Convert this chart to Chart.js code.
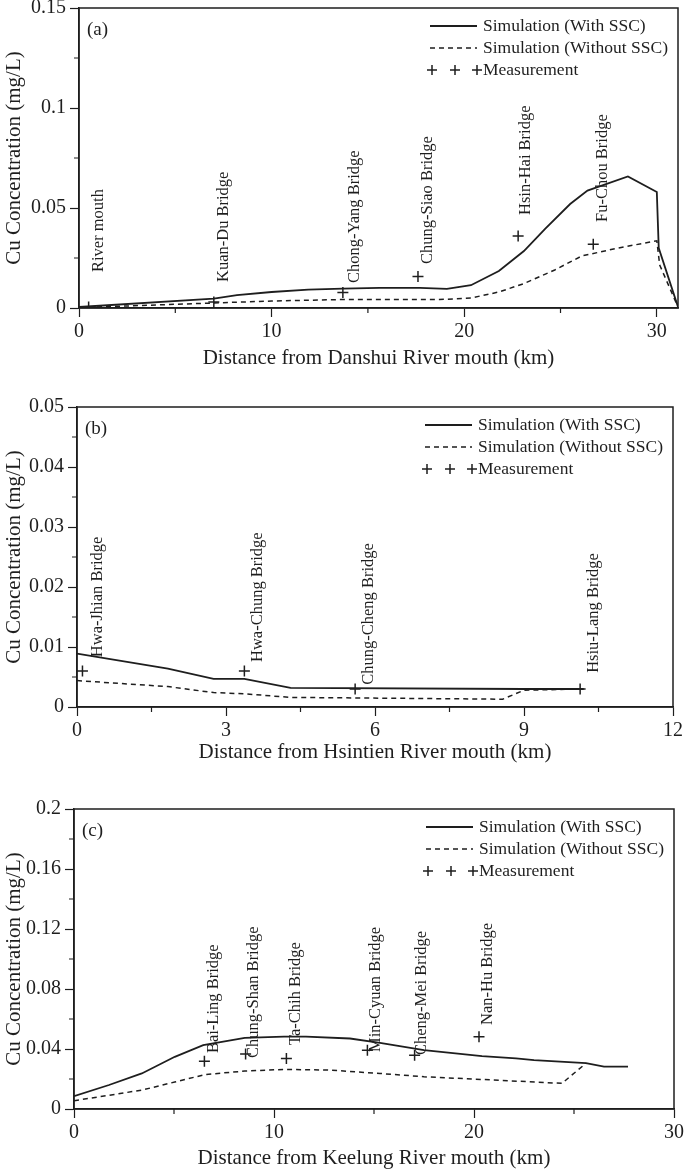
<!DOCTYPE html>
<html>
<head>
<meta charset="utf-8">
<title>Cu Concentration</title>
<script src="https://cdn.jsdelivr.net/npm/chart.js@4"></script>
<style>
    body { margin: 0; background: #fff; }
    .panel { position: absolute; left: 0; width: 685px; }
</style>
</head>
<body>
<div class="panel" style="top:0;height:385px"><canvas id="chartA"></canvas></div>
<div class="panel" style="top:385px;height:395px"><canvas id="chartB"></canvas></div>
<div class="panel" style="top:780px;height:392px"><canvas id="chartC"></canvas></div>

<script>
    // (a) Danshui River
    var withXA = [0, 7.0, 8.2, 10.0, 11.9, 13.7, 15.6, 17.7, 19.1, 20.35, 21.8, 23.1, 24.2, 25.5, 26.4, 28.5, 30.0, 30.1, 31.1];
    var withYA = [0.0005, 0.0047, 0.0064, 0.008, 0.0092, 0.0097, 0.0101, 0.0101, 0.0096, 0.0114, 0.0185, 0.0285, 0.0396, 0.052, 0.0587, 0.0658, 0.058, 0.030, 0.0005];
    var withoutXA = [0, 7.0, 10.0, 13.5, 18.7, 20.35, 21.8, 23.1, 24.7, 26.1, 28.0, 30.0, 30.15, 31.1];
    var withoutYA = [0.0002, 0.0025, 0.0035, 0.0042, 0.0042, 0.005, 0.008, 0.0122, 0.019, 0.026, 0.030, 0.0336, 0.0215, 0.0005];
    var measXA = [0.5, 7.0, 13.7, 17.6, 22.8, 26.7];
    var measYA = [0.0005, 0.003, 0.0077, 0.0158, 0.036, 0.0319];
    var bridgesA = ["River mouth", "Kuan-Du Bridge", "Chong-Yang Bridge", "Chung-Siao Bridge", "Hsin-Hai Bridge", "Fu-Chou Bridge"];
    var bridgeXA = [1.03, 7.5, 14.3, 18.1, 23.2, 27.2];
    var bridgeYA = [0.018, 0.013, 0.0125, 0.022, 0.0465, 0.043];

    // (b) Hsintien River
    var withXB = [0, 1.83, 2.75, 3.37, 4.3, 9.0, 10.2];
    var withYB = [0.0089, 0.0064, 0.0047, 0.0047, 0.0032, 0.003, 0.003];
    var withoutXB = [0, 1.83, 2.75, 3.37, 4.3, 8.57, 9.0, 10.2];
    var withoutYB = [0.0044, 0.0034, 0.0024, 0.0022, 0.0016, 0.0013, 0.0028, 0.003];
    var measXB = [0.11, 3.37, 5.6, 10.13];
    var measYB = [0.006, 0.006, 0.003, 0.003];
    var bridgesB = ["Hwa-Jhian Bridge", "Hwa-Chung Bridge", "Chung-Cheng Bridge", "Hsiu-Lang Bridge"];
    var bridgeXB = [0.42, 3.64, 5.88, 10.41];
    var bridgeYB = [0.0083, 0.0075, 0.0037, 0.0057];

    // (c) Keelung River
    var withXC = [0, 1.75, 3.39, 5.04, 6.46, 8.54, 10.5, 11.6, 13.8, 15.3, 17.5, 20.4, 22.1, 23.0, 25.6, 26.5, 27.7];
    var withYC = [0.0086, 0.016, 0.0237, 0.0348, 0.0426, 0.0474, 0.0483, 0.0483, 0.047, 0.0441, 0.0392, 0.0353, 0.0337, 0.0326, 0.0306, 0.0282, 0.0282];
    var withoutXC = [0, 3.39, 5.04, 6.57, 8.54, 10.5, 12.7, 15.3, 17.5, 20.4, 24.4, 25.6];
    var withoutYC = [0.0055, 0.0126, 0.018, 0.023, 0.0253, 0.0264, 0.026, 0.0237, 0.0215, 0.0197, 0.0171, 0.0305];
    var measXC = [6.52, 8.58, 10.62, 14.67, 17.03, 20.25];
    var measYC = [0.0319, 0.0366, 0.0337, 0.0392, 0.0359, 0.0481];
    var bridgesC = ["Bai-Ling Bridge", "Chung-Shan Bridge", "Ta-Chih Bridge", "Min-Cyuan Bridge", "Cheng-Mei Bridge", "Nan-Hu Bridge"];
    var bridgeXC = [7.0, 8.98, 11.06, 15.1, 17.4, 20.7];
    var bridgeYC = [0.0373, 0.034, 0.0427, 0.038, 0.036, 0.056];

    var legendLabels = ["Simulation (With SSC)", "Simulation (Without SSC)", "Measurement"];
    var yTitle = "Cu Concentration (mg/L)";

    var INK = "#1e1e1e";
    var FONT = "'Liberation Serif', 'Times New Roman', serif";
    Chart.defaults.font.family = FONT;
    Chart.defaults.color = INK;

    function pts(xs, ys) {
        return xs.map(function (x, i) { return { x: x, y: ys[i] }; });
    }
    function isMajor(v, step) {
        var r = v / step;
        return Math.abs(r - Math.round(r)) < 1e-6;
    }

    // frame, minor ticks, panel letter, bridge names and legend
    function decor(p) {
        return {
            id: "decor" + p.letter,
            afterDraw: function (chart) {
                var ctx = chart.ctx, a = chart.chartArea;
                var xs = chart.scales.x, ys = chart.scales.y;
                ctx.save();
                ctx.strokeStyle = INK;
                ctx.fillStyle = INK;
                ctx.lineWidth = 1.5;
                ctx.strokeRect(a.left, a.top, a.right - a.left, a.bottom - a.top);

                ctx.lineWidth = 1.2;
                ctx.beginPath();
                xs.ticks.forEach(function (t) {
                    if (isMajor(t.value, p.xMajor)) return;
                    var px = xs.getPixelForValue(t.value);
                    ctx.moveTo(px, a.bottom);
                    ctx.lineTo(px, a.bottom + 5);
                });
                ys.ticks.forEach(function (t) {
                    if (isMajor(t.value, p.yMajor)) return;
                    var py = ys.getPixelForValue(t.value);
                    ctx.moveTo(a.left, py);
                    ctx.lineTo(a.left - 5, py);
                });
                ctx.stroke();

                ctx.textBaseline = "middle";
                ctx.textAlign = "left";
                ctx.font = "19px " + FONT;
                ctx.fillText("(" + p.letter + ")", a.left + 8, a.top + 22);

                ctx.font = "16.5px " + FONT;
                p.names.forEach(function (name, i) {
                    ctx.save();
                    ctx.translate(xs.getPixelForValue(p.bx[i]), ys.getPixelForValue(p.by[i]));
                    ctx.rotate(-Math.PI / 2);
                    ctx.fillText(name, 0, 0);
                    ctx.restore();
                });

                // legend
                var rows = [18, 40, 62];
                var x0 = a.right - 248, x1 = a.right - 201, tx = a.right - 195;
                ctx.font = "17.5px " + FONT;
                ctx.lineWidth = 1.8;
                ctx.beginPath();
                ctx.moveTo(x0, a.top + rows[0]);
                ctx.lineTo(x1, a.top + rows[0]);
                ctx.stroke();
                ctx.setLineDash([5, 4]);
                ctx.lineWidth = 1.5;
                ctx.beginPath();
                ctx.moveTo(x0, a.top + rows[1]);
                ctx.lineTo(x1, a.top + rows[1]);
                ctx.stroke();
                ctx.setLineDash([]);
                ctx.beginPath();
                [a.right - 246, a.right - 223, a.right - 201].forEach(function (cx) {
                    var cy = a.top + rows[2];
                    ctx.moveTo(cx - 5, cy);
                    ctx.lineTo(cx + 5, cy);
                    ctx.moveTo(cx, cy - 5);
                    ctx.lineTo(cx, cy + 5);
                });
                ctx.stroke();
                legendLabels.forEach(function (lab, i) {
                    ctx.fillText(lab, tx, a.top + rows[i]);
                });
                ctx.restore();
            }
        };
    }

    function makeChart(id, p) {
        var ctx = document.getElementById(id).getContext("2d");
        return new Chart(ctx, {
            type: "scatter",
            data: {
                datasets: [{
                    label: legendLabels[0],
                    data: pts(p.withX, p.withY),
                    showLine: true,
                    borderColor: INK,
                    borderWidth: 1.8,
                    pointRadius: 0,
                    tension: 0
                }, {
                    label: legendLabels[1],
                    data: pts(p.withoutX, p.withoutY),
                    showLine: true,
                    borderColor: INK,
                    borderWidth: 1.5,
                    borderDash: [5, 4],
                    pointRadius: 0,
                    tension: 0
                }, {
                    label: legendLabels[2],
                    data: pts(p.measX, p.measY),
                    showLine: false,
                    pointStyle: "cross",
                    pointRadius: 5.5,
                    borderColor: INK,
                    borderWidth: 1.5
                }]
            },
            options: {
                responsive: true,
                maintainAspectRatio: false,
                animation: false,
                layout: { padding: { left: 0, right: p.padRight, top: p.padTop, bottom: 0 } },
                plugins: { legend: { display: false }, tooltip: { enabled: false } },
                scales: {
                    x: {
                        type: "linear",
                        min: 0,
                        max: p.xMax,
                        border: { display: true, color: INK, width: 1.5 },
                        grid: {
                            drawOnChartArea: false,
                            tickLength: 9,
                            tickWidth: 1.2,
                            tickColor: function (c) { return c.tick && isMajor(c.tick.value, p.xMajor) ? INK : "rgba(0,0,0,0)"; }
                        },
                        ticks: {
                            stepSize: p.xMinor,
                            includeBounds: false,
                            autoSkip: false,
                            maxRotation: 0,
                            padding: 3,
                            color: INK,
                            font: { size: 20 },
                            callback: function (v) { return isMajor(v, p.xMajor) ? String(+v.toFixed(3)) : ""; }
                        },
                        title: { display: true, text: p.xTitle, color: INK, font: { size: 21 }, padding: { top: 0, bottom: p.xTitlePad } },
                        afterFit: function (s) { s.height = p.xHeight; s.paddingLeft = 0; s.paddingRight = 0; }
                    },
                    y: {
                        type: "linear",
                        min: 0,
                        max: p.yMax,
                        border: { display: true, color: INK, width: 1.5 },
                        grid: {
                            drawOnChartArea: false,
                            tickLength: 9,
                            tickWidth: 1.2,
                            tickColor: function (c) { return c.tick && isMajor(c.tick.value, p.yMajor) ? INK : "rgba(0,0,0,0)"; }
                        },
                        ticks: {
                            stepSize: p.yMinor,
                            autoSkip: false,
                            padding: 4,
                            color: INK,
                            font: { size: 20 },
                            callback: function (v) { return isMajor(v, p.yMajor) ? String(+v.toFixed(3)) : ""; }
                        },
                        title: { display: true, text: yTitle, color: INK, font: { size: 21 }, padding: { top: 2, bottom: 0 } },
                        afterFit: function (s) { s.width = p.yWidth; s.paddingTop = 0; s.paddingBottom = 0; }
                    }
                }
            },
            plugins: [decor(p)]
        });
    }

    makeChart("chartA", {
        letter: "a", withX: withXA, withY: withYA, withoutX: withoutXA, withoutY: withoutYA,
        measX: measXA, measY: measYA, names: bridgesA, bx: bridgeXA, by: bridgeYA,
        xMax: 31.1, xMajor: 10, xMinor: 5, yMax: 0.15, yMajor: 0.05, yMinor: 0.025,
        xTitle: "Distance from Danshui River mouth (km)",
        padTop: 8, padRight: 6, yWidth: 79, xHeight: 77, xTitlePad: 14
    });
    makeChart("chartB", {
        letter: "b", withX: withXB, withY: withYB, withoutX: withoutXB, withoutY: withoutYB,
        measX: measXB, measY: measYB, names: bridgesB, bx: bridgeXB, by: bridgeYB,
        xMax: 12, xMajor: 3, xMinor: 1.5, yMax: 0.05, yMajor: 0.01, yMinor: 0.005,
        xTitle: "Distance from Hsintien River mouth (km)",
        padTop: 22, padRight: 12, yWidth: 77, xHeight: 73, xTitlePad: 15
    });
    makeChart("chartC", {
        letter: "c", withX: withXC, withY: withYC, withoutX: withoutXC, withoutY: withoutYC,
        measX: measXC, measY: measYC, names: bridgesC, bx: bridgeXC, by: bridgeYC,
        xMax: 30, xMajor: 10, xMinor: 5, yMax: 0.2, yMajor: 0.04, yMinor: 0.02,
        xTitle: "Distance from Keelung River mouth (km)",
        padTop: 29, padRight: 11, yWidth: 74, xHeight: 63, xTitlePad: 1
    });
</script>
</body>
</html>
